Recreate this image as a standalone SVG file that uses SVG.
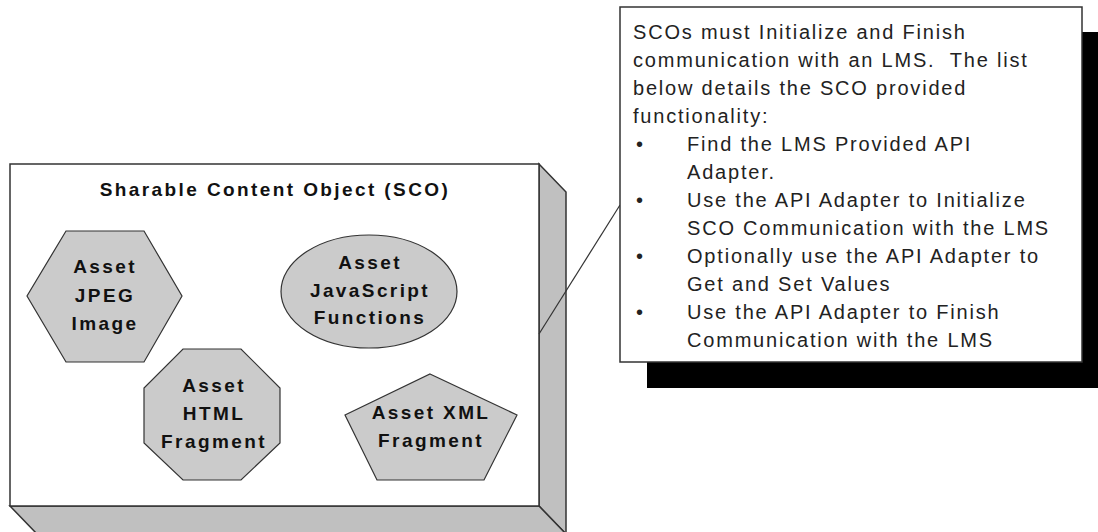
<svg xmlns="http://www.w3.org/2000/svg" width="1098" height="532" viewBox="0 0 1098 532">
<style>
.face{fill:#ffffff;stroke:#333333;stroke-width:1.5}
.side{fill:#c0c0c0;stroke:#333333;stroke-width:1.5}
.asset{fill:#cbcbcb;stroke:#333333;stroke-width:1.2}
.bold{font-family:"Liberation Sans",Arial,sans-serif;font-weight:bold;font-size:19px;letter-spacing:2.4px;fill:#111111;text-anchor:middle}
.note{font-family:"Liberation Sans",Arial,sans-serif;font-size:20px;letter-spacing:1.8px;fill:#222222;white-space:pre}
.conn{stroke:#333333;stroke-width:1.2;fill:none}
</style>
<rect width="1098" height="532" fill="#ffffff"/>
<g id="sco">
<polygon class="side" points="539,164 566,192 566,534 539,506"/>
<polygon class="side" points="10,506 539,506 566,534 37,534"/>
<rect class="face" x="10" y="164" width="529" height="342"/>
<text class="bold" x="275" y="196">Sharable Content Object (SCO)</text>
</g>
<g id="asset-jpeg">
<polygon class="asset" points="66,231 144,231 182,296 144,362 66,362 27,296"/>
<text class="bold" x="105" y="273">Asset</text>
<text class="bold" x="105" y="302">JPEG</text>
<text class="bold" x="105" y="330">Image</text>
</g>
<g id="asset-js">
<ellipse class="asset" cx="369" cy="291.5" rx="88" ry="56.5"/>
<text class="bold" x="370" y="269">Asset</text>
<text class="bold" x="370" y="297">JavaScript</text>
<text class="bold" x="370" y="324">Functions</text>
</g>
<g id="asset-html">
<polygon class="asset" points="183,349 241,349 280,388 280,443 241,480 183,480 144,443 144,388"/>
<text class="bold" x="214" y="392">Asset</text>
<text class="bold" x="214" y="420">HTML</text>
<text class="bold" x="214" y="448">Fragment</text>
</g>
<g id="asset-xml">
<polygon class="asset" points="430,374 517,415 484,480 377,480 345,415"/>
<text class="bold" x="431" y="419">Asset XML</text>
<text class="bold" x="431" y="447">Fragment</text>
</g>
<g id="connectors">
<line class="conn" x1="539" y1="334" x2="620" y2="205"/>
</g>
<g id="note">
<rect x="647" y="32" width="460" height="356" fill="#000000"/>
<rect x="620" y="7" width="462" height="355" fill="#ffffff" stroke="#333333" stroke-width="1.5"/>
<text class="note" x="633" y="39">SCOs must Initialize and Finish</text>
<text class="note" x="633" y="67">communication with an LMS.  The list</text>
<text class="note" x="633" y="95">below details the SCO provided</text>
<text class="note" x="633" y="123">functionality:</text>
<text class="note" x="636" y="151">•</text>
<text class="note" x="687" y="151">Find the LMS Provided API</text>
<text class="note" x="687" y="179">Adapter.</text>
<text class="note" x="636" y="207">•</text>
<text class="note" x="687" y="207">Use the API Adapter to Initialize</text>
<text class="note" x="687" y="235">SCO Communication with the LMS</text>
<text class="note" x="636" y="263">•</text>
<text class="note" x="687" y="263">Optionally use the API Adapter to</text>
<text class="note" x="687" y="291">Get and Set Values</text>
<text class="note" x="636" y="319">•</text>
<text class="note" x="687" y="319">Use the API Adapter to Finish</text>
<text class="note" x="687" y="347">Communication with the LMS</text>
</g>
</svg>
